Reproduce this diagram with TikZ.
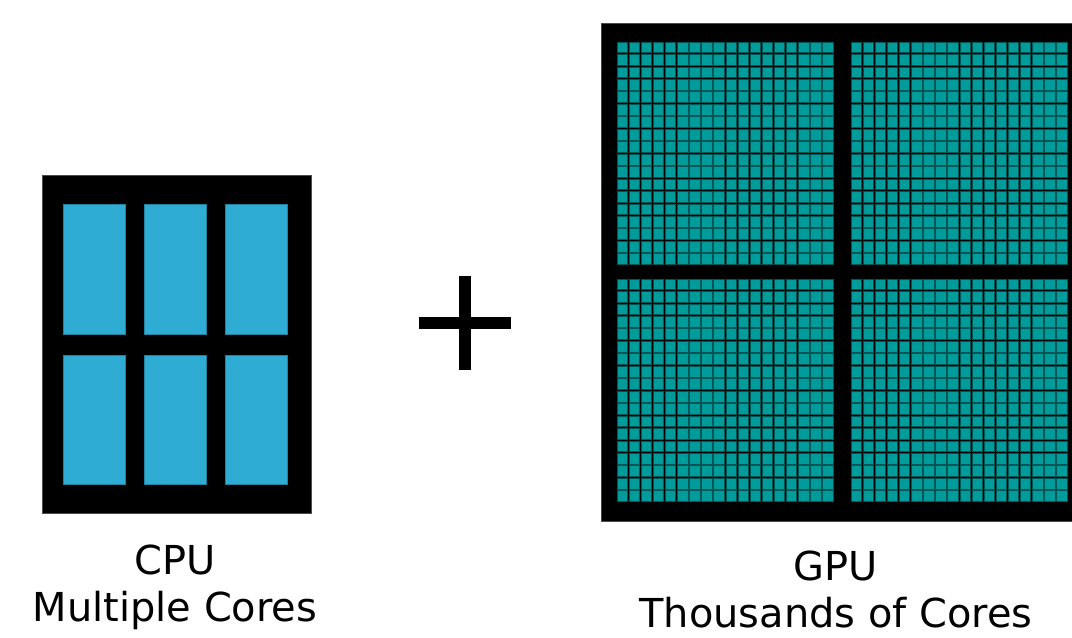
\documentclass[tikz,border=0pt]{standalone}
\usepackage{fontspec}
\setmainfont{DejaVu Sans}
\usetikzlibrary{positioning}
\definecolor{cpucore}{RGB}{46,172,212}
\definecolor{gpucore}{RGB}{0,155,155}
\definecolor{gpuedge}{RGB}{0,85,85}
\tikzstyle{chip} = [rectangle, fill=black, draw=black!70, thin, inner sep=0pt]
\tikzstyle{cpucell} = [rectangle, fill=cpucore, draw=cpucore!75!black, line width=0.3pt, inner sep=0pt, minimum width=12.4mm, minimum height=25.9mm]
\tikzstyle{gpucell} = [fill=gpucore, draw=gpuedge, line width=0.4pt]
\tikzstyle{plusbar} = [line width=2.4mm, black]
\tikzstyle{caption} = [align=center, anchor=base, inner sep=0pt, font=\fontsize{22.7}{26.7}\selectfont]

\begin{document}
\begin{tikzpicture}[x=0.2mm, y=-0.2mm]
\useasboundingbox (0,0) rectangle (1072,637);

% CPU with six cores
\node (cpu) [chip, minimum width=53.8mm, minimum height=67.6mm] at (176.5,344) {};
\foreach \cx [count=\i] in {94,175,256} {
  \node (core\i a) [cpucell] at (\cx,269.5) {};
  \node (core\i b) [cpucell] at (\cx,420) {};
}

% plus sign
\node (plus) [minimum width=18.4mm, minimum height=18.8mm, inner sep=0pt] at (465,323) {};
\draw[plusbar] (plus.north) -- (plus.south);
\draw[plusbar] (plus.west) -- (plus.east);

% GPU with four blocks of 18x18 cores
\node (gpu) [chip, minimum width=94.4mm, minimum height=99.6mm] at (837,272) {};
\foreach \qx/\qy in {617/42, 851/42, 617/279, 851/279} {
  \foreach \c in {0,...,17} {
    \foreach \r in {0,...,17} {
      \draw[gpucell] ({\qx+12.1*\c},{\qy+12.45*\r}) rectangle ++(10.4,10.8);
    }
  }
}

% captions (base = last line)
\node (cpulabel) [caption] at (175,621) {CPU\\[-0.4pt]Multiple Cores};
\node (gpulabel) [caption] at (836,627) {GPU\\[-0.4pt]Thousands of Cores};

\end{tikzpicture}
\end{document}
